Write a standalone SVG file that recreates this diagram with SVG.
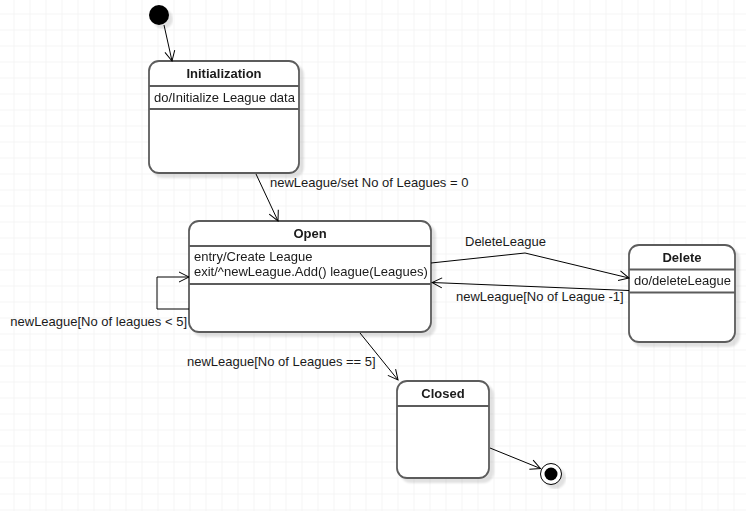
<svg xmlns="http://www.w3.org/2000/svg" width="746" height="511" viewBox="0 0 746 511">
<defs>
<pattern id="grid" x="13.5" y="13.5" width="16" height="16" patternUnits="userSpaceOnUse">
<path d="M0 0H16M0 0V16" fill="none" stroke="#ececec" stroke-width="1"/>
</pattern>
<marker id="arr" viewBox="0 0 12 12" refX="11" refY="6" markerWidth="12" markerHeight="12" markerUnits="userSpaceOnUse" orient="auto">
<path d="M1 1L11 6L1 11" fill="none" stroke="#000" stroke-width="1"/>
</marker>
<filter id="sh" x="-10%" y="-10%" width="130%" height="130%">
<feGaussianBlur in="SourceAlpha" stdDeviation="1.2"/>
<feOffset dx="4" dy="4" result="o"/>
<feComponentTransfer><feFuncA type="linear" slope="0.12"/></feComponentTransfer>
<feMerge><feMergeNode/><feMergeNode in="SourceGraphic"/></feMerge>
</filter>
</defs>
<style>
.box{fill:#fff;stroke:#5c5c5c;stroke-width:1.8}
.div{stroke:#5c5c5c;stroke-width:1.8}
.t{font-family:"Liberation Sans",Arial,sans-serif;font-size:13px;fill:#1a1a1a}
.b{font-weight:bold;text-anchor:middle}
.c{fill:none;stroke:#000;stroke-width:1}
</style>
<rect width="746" height="511" fill="#fff"/>
<rect width="746" height="511" fill="url(#grid)"/>

<g id="initial">
<circle cx="159" cy="15" r="10" fill="#000" filter="url(#sh)"/>
</g>

<g id="initialization" filter="url(#sh)">
<rect class="box" x="149" y="61" width="150" height="112" rx="10"/>
<line class="div" x1="149" y1="86" x2="299" y2="86"/>
<line class="div" x1="149" y1="109" x2="299" y2="109"/>
<text class="t b" x="224" y="78">Initialization</text>
<text class="t" x="154" y="102">do/Initialize League data</text>
</g>

<g id="open" filter="url(#sh)">
<rect class="box" x="189" y="221" width="242" height="111" rx="10"/>
<line class="div" x1="189" y1="246" x2="431" y2="246"/>
<line class="div" x1="189" y1="284" x2="431" y2="284"/>
<text class="t b" x="310" y="238">Open</text>
<text class="t" x="194" y="261">entry/Create League</text>
<text class="t" x="194" y="276">exit/^newLeague.Add() league(Leagues)</text>
</g>

<g id="delete" filter="url(#sh)">
<rect class="box" x="629" y="245" width="106" height="97" rx="10"/>
<line class="div" x1="629" y1="269.5" x2="735" y2="269.5"/>
<line class="div" x1="629" y1="292.5" x2="735" y2="292.5"/>
<text class="t b" x="682" y="262">Delete</text>
<text class="t" x="634" y="285">do/deleteLeague</text>
</g>

<g id="closed" filter="url(#sh)">
<rect class="box" x="397" y="381" width="92" height="97" rx="10"/>
<line class="div" x1="397" y1="406" x2="489" y2="406"/>
<text class="t b" x="443" y="398">Closed</text>
</g>

<g id="final" filter="url(#sh)">
<circle cx="551" cy="474" r="10.5" fill="#fff" stroke="#000" stroke-width="1"/>
<circle cx="551" cy="474" r="6.5" fill="#000"/>
</g>

<g id="connectors">
<path class="c" d="M164 25L172 61" marker-end="url(#arr)"/>
<path class="c" d="M256 174L278 221" marker-end="url(#arr)"/>
<path class="c" d="M189 309H157V277H189" marker-end="url(#arr)"/>
<path class="c" d="M431 263L525 253L629 278" marker-end="url(#arr)"/>
<path class="c" d="M629 290.5L432 282.5" marker-end="url(#arr)"/>
<path class="c" d="M360 333L398 380" marker-end="url(#arr)"/>
<path class="c" d="M490 448L540.5 468.5" marker-end="url(#arr)"/>
<text class="t" x="270" y="187">newLeague/set No of Leagues = 0</text>
<text class="t" x="187" y="326" text-anchor="end">newLeague[No of leagues &lt; 5]</text>
<text class="t" x="465" y="246">DeleteLeague</text>
<text class="t" x="456" y="301">newLeague[No of League -1]</text>
<text class="t" x="187" y="366">newLeague[No of Leagues == 5]</text>
</g>
</svg>
